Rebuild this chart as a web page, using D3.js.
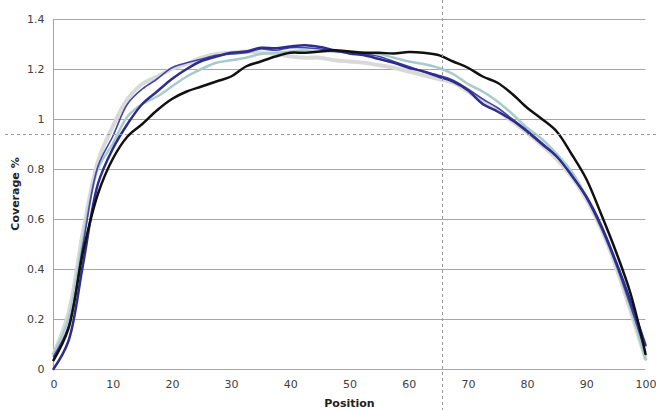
<!DOCTYPE html>
<html>
<head>
<meta charset="utf-8">
<script src="https://cdn.jsdelivr.net/npm/d3@7"></script>
<style>
  html, body { margin: 0; padding: 0; background: #fff; }
  svg { display: block; }
  text { font-family: "DejaVu Sans", sans-serif; }
</style>
</head>
<body>
<svg id="chart" width="656" height="410"></svg>
<script>
const positions = d3.range(0, 100.01, 2.5);

const grayLight = [0.06,0.22,0.55,0.83,0.97,1.08,1.14,1.17,1.20,1.22,1.245,1.26,1.265,1.27,1.265,1.26,1.25,1.245,1.245,1.235,1.23,1.225,1.215,1.205,1.19,1.175,1.16,1.145,1.11,1.07,1.035,0.99,0.945,0.895,0.84,0.77,0.68,0.56,0.41,0.23,0.04];
const teal = [0.06,0.20,0.52,0.80,0.90,1.01,1.06,1.09,1.13,1.17,1.20,1.225,1.235,1.245,1.26,1.265,1.27,1.275,1.27,1.27,1.27,1.265,1.26,1.245,1.23,1.22,1.205,1.18,1.14,1.11,1.07,1.02,0.965,0.92,0.86,0.79,0.69,0.565,0.42,0.24,0.04];
const navyThin = [0.05,0.17,0.50,0.81,0.93,1.06,1.12,1.16,1.205,1.225,1.24,1.255,1.26,1.265,1.28,1.275,1.285,1.285,1.28,1.27,1.265,1.26,1.25,1.23,1.21,1.19,1.175,1.155,1.12,1.08,1.045,1.0,0.955,0.905,0.85,0.775,0.685,0.565,0.42,0.25,0.07];
const navyThick = [0.0,0.11,0.42,0.74,0.88,0.98,1.06,1.11,1.16,1.20,1.232,1.25,1.265,1.27,1.285,1.283,1.29,1.295,1.288,1.275,1.262,1.255,1.24,1.225,1.205,1.19,1.17,1.15,1.115,1.06,1.03,0.995,0.95,0.90,0.85,0.775,0.69,0.575,0.43,0.27,0.095];
const black = [0.035,0.16,0.47,0.70,0.84,0.93,0.98,1.035,1.08,1.11,1.13,1.15,1.17,1.21,1.23,1.25,1.265,1.265,1.27,1.275,1.27,1.265,1.265,1.262,1.268,1.265,1.256,1.23,1.205,1.17,1.145,1.10,1.045,1.0,0.95,0.86,0.76,0.62,0.47,0.30,0.06];

const xTicks = [0,10,20,30,40,50,60,70,80,90,100];
const yTicks = [0,0.2,0.4,0.6,0.8,1,1.2,1.4];
const crossX = 65.6;
const crossY = 0.94;

const seriesList = [
  {name: "grayLight", values: grayLight, color: "#d9d9d9", width: 4},
  {name: "teal", values: teal, color: "#a7cbcb", width: 2.5},
  {name: "navyThin", values: navyThin, color: "#4545a5", width: 1.6},
  {name: "navyThick", values: navyThick, color: "#2d2d8c", width: 2.5},
  {name: "black", values: black, color: "#111111", width: 2.5}
];

const svg = d3.select("#chart");
const W = 656, H = 410;
const mLeft = 53.5, mRight = 645.5, mTop = 19, mBottom = 369;

const x = d3.scaleLinear().domain([0, 100]).range([mLeft, mRight]);
const y = d3.scaleLinear().domain([0, 1.4]).range([mBottom, mTop]);

// gridlines
svg.append("g")
  .selectAll("line")
  .data(yTicks)
  .join("line")
  .attr("x1", mLeft).attr("x2", mRight)
  .attr("y1", d => Math.round(y(d)) + 0.5).attr("y2", d => Math.round(y(d)) + 0.5)
  .attr("stroke", "#a6a6a6").attr("stroke-width", 1);

// left axis line
svg.append("line")
  .attr("x1", mLeft).attr("x2", mLeft)
  .attr("y1", mTop).attr("y2", mBottom + 0.5)
  .attr("stroke", "#a6a6a6").attr("stroke-width", 1);

// y axis labels
const yAxis = d3.axisLeft(y).tickValues(yTicks).tickSize(0).tickPadding(9)
  .tickFormat(d => d3.format("~g")(d));
const gy = svg.append("g").attr("transform", `translate(${mLeft},0)`).call(yAxis);
gy.select(".domain").remove();
gy.selectAll("text").attr("font-size", 11).attr("fill", "#404040")
  .attr("font-family", "DejaVu Sans, sans-serif");

// x axis labels
const xAxis = d3.axisBottom(x).tickValues(xTicks).tickSize(0).tickPadding(11);
const gx = svg.append("g").attr("transform", `translate(0,${mBottom})`).call(xAxis);
gx.select(".domain").remove();
gx.selectAll("text").attr("font-size", 11).attr("fill", "#404040")
  .attr("font-family", "DejaVu Sans, sans-serif");

// lines
const line = d3.line()
  .x((d, i) => x(positions[i]))
  .y(d => y(d))
  .curve(d3.curveCatmullRom.alpha(0.5));

svg.append("g")
  .selectAll("path")
  .data(seriesList)
  .join("path")
  .attr("d", s => line(s.values))
  .attr("fill", "none")
  .attr("stroke", s => s.color)
  .attr("stroke-width", s => s.width)
  .attr("stroke-linejoin", "round")
  .attr("stroke-linecap", "round");

// crosshair
svg.append("line")
  .attr("x1", 5).attr("x2", W)
  .attr("y1", Math.round(y(crossY)) + 0.5).attr("y2", Math.round(y(crossY)) + 0.5)
  .attr("stroke", "#999").attr("stroke-width", 1).attr("stroke-dasharray", "3,3");
svg.append("line")
  .attr("x1", Math.round(x(crossX)) + 0.5).attr("x2", Math.round(x(crossX)) + 0.5)
  .attr("y1", 0).attr("y2", H)
  .attr("stroke", "#999").attr("stroke-width", 1).attr("stroke-dasharray", "3,3");

// axis titles
svg.append("text")
  .attr("transform", `translate(19,${(mTop + mBottom) / 2}) rotate(-90)`)
  .attr("text-anchor", "middle")
  .attr("font-size", 11).attr("font-weight", "bold").attr("fill", "#222")
  .text("Coverage %");

svg.append("text")
  .attr("x", (mLeft + mRight) / 2).attr("y", 407)
  .attr("text-anchor", "middle")
  .attr("font-size", 11).attr("font-weight", "bold").attr("fill", "#222")
  .text("Position");
</script>
</body>
</html>
